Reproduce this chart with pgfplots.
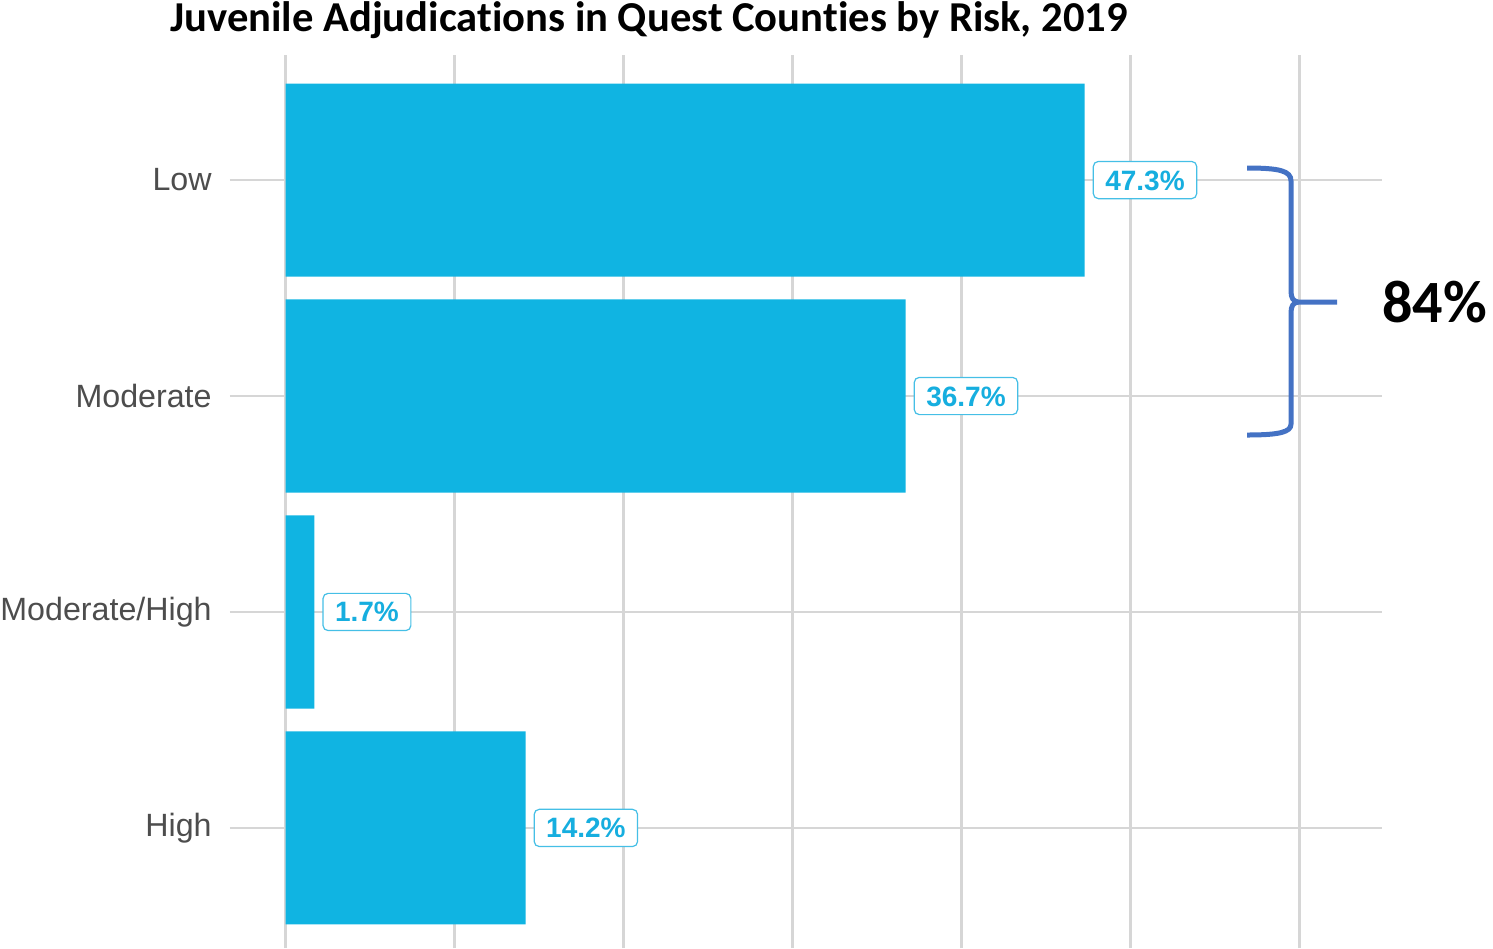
\documentclass[border=0pt]{standalone}
\usepackage{pgfplots}
\pgfplotsset{compat=1.18}
\usepackage{fontspec}
\setmainfont{Liberation Sans}
\newfontfamily\carlito[RawFeature=-liga]{Carlito}
\definecolor{barc}{HTML}{10B4E2}
\definecolor{labc}{HTML}{16AEDF}
\definecolor{labb}{HTML}{45BFE6}
\definecolor{gridc}{HTML}{D6D6D6}
\definecolor{tickc}{HTML}{4D4D4D}
\definecolor{bracec}{HTML}{4472C4}
\begin{document}
\begin{tikzpicture}
\path[use as bounding box] (0pt,0pt) rectangle (746.5pt,-474pt);
\begin{axis}[
  at={(115pt,-474pt)}, anchor=south west,
  scale only axis, width=576pt, height=446.5pt,
  xmin=-3.3, xmax=64.9, ymin=-0.556, ymax=3.579,
  xbar, bar width=0.894,
  axis line style={draw=none},
  major tick length=0pt,
  xtick={0,10,...,60}, xticklabels={},
  ytick={0,1,2,3},
  yticklabels={High,Moderate/High,Moderate,Low},
  yticklabel style={font=\fontsize{16.1}{18}\selectfont, text=tickc, inner sep=0pt, xshift=-9pt},
  xmajorgrids, ymajorgrids,
  major grid style={draw=gridc, line width=1.3pt},
  clip=false,
  /pgf/number format/assume math mode=true,
  nodes near coords={\pgfmathprintnumber[fixed,precision=1,fixed zerofill,assume math mode=true]{\pgfplotspointmeta}\%},
  point meta=explicit,
  every node near coord/.append style={
    anchor=west, xshift=4pt,
    font=\fontsize{14}{16}\selectfont\bfseries, text=labc,
    draw=labb, line width=0.6pt, fill=white, rounded corners=2.5pt,
    inner xsep=6pt, inner ysep=4.3pt, text height=10pt, text depth=0pt},
]
\addplot[fill=barc, draw=none] coordinates {
  (47.3,3) [47.3]
  (36.7,2) [36.7]
  (1.7,1) [1.7]
  (14.2,0) [14.2]
};
\end{axis}
\begin{scope}[x=0.5pt,y=-0.5pt]
\node[font=\carlito\fontsize{21.3}{24}\selectfont\bfseries, anchor=base, inner sep=0pt] at (649,31) {Juvenile Adjudications in Quest Counties by Risk, 2019};
\draw[bracec, line width=2.5pt, line cap=butt]
  (1247,168) .. controls (1280,168) and (1291,171) .. (1291,181)
  -- (1291,291) .. controls (1291,298) and (1293,301) .. (1298,302)
  -- (1337,302);
\draw[bracec, line width=2.5pt, line cap=butt]
  (1298,302) .. controls (1293,303) and (1291,306) .. (1291,313)
  -- (1291,424) .. controls (1291,432) and (1280,435) .. (1247,435);
\node[font=\carlito\fontsize{30}{34}\selectfont\bfseries, anchor=west, inner sep=0pt] at (1382,302) {84\%};
\end{scope}
\end{tikzpicture}
\end{document}
